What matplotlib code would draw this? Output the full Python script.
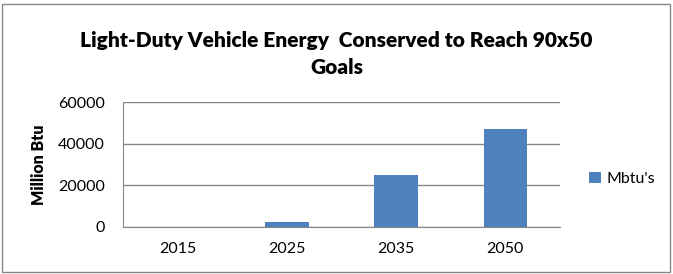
import matplotlib.pyplot as plt
from matplotlib.patches import Rectangle

# datos del grafico
years = ['2015', '2025', '2035', '2050']
mbtus = [0, 2400, 25000, 47000]
series_name = "Mbtu's"

plt.rcParams['font.family'] = ['Lato', 'DejaVu Sans']

fig = plt.figure(figsize=(6.73, 2.74), dpi=100)
ax = fig.add_axes([123 / 673, 1 - 227 / 274, (560 - 123) / 673, (227 - 102) / 274])

ax.bar(years, mbtus, width=0.4, color='#4f81bd', label=series_name, zorder=3)

ax.set_ylim(0, 60000)
ax.set_yticks([0, 20000, 40000, 60000])
ax.set_xlim(-0.5, len(years) - 0.5)
ax.grid(axis='y', color='#868686', linewidth=1, zorder=0)
for s in ['top', 'right']:
    ax.spines[s].set_visible(False)
ax.spines['left'].set_color('#868686')
ax.spines['bottom'].set_color('#868686')
ax.tick_params(axis='both', length=0, labelsize=11.5)
ax.tick_params(axis='y', pad=13)
ax.tick_params(axis='x', pad=11)
ax.set_ylabel('Million Btu', fontsize=11.5, fontweight='heavy', labelpad=8)

fig.text(0.5, 1 - 40 / 274, 'Light-Duty Vehicle Energy  Conserved to Reach 90x50', ha='center', va='center',
         fontsize=15, fontweight='heavy')
fig.text(0.5, 1 - 68 / 274, 'Goals', ha='center', va='center', fontsize=15, fontweight='heavy')

ax.legend(loc='center left', frameon=False, fontsize=11.5, handlelength=0.7, handleheight=0.7,
          handletextpad=0.4)
leg = ax.get_legend()
leg.set_bbox_to_anchor((575 / 673, 1 - 179 / 274), transform=fig.transFigure)

# borde exterior
fig.patches.append(Rectangle((2 / 673, 2 / 274), 668 / 673, 268 / 274, transform=fig.transFigure,
                             fill=False, edgecolor='#868686', linewidth=1))

plt.savefig('out.png', dpi=100)
